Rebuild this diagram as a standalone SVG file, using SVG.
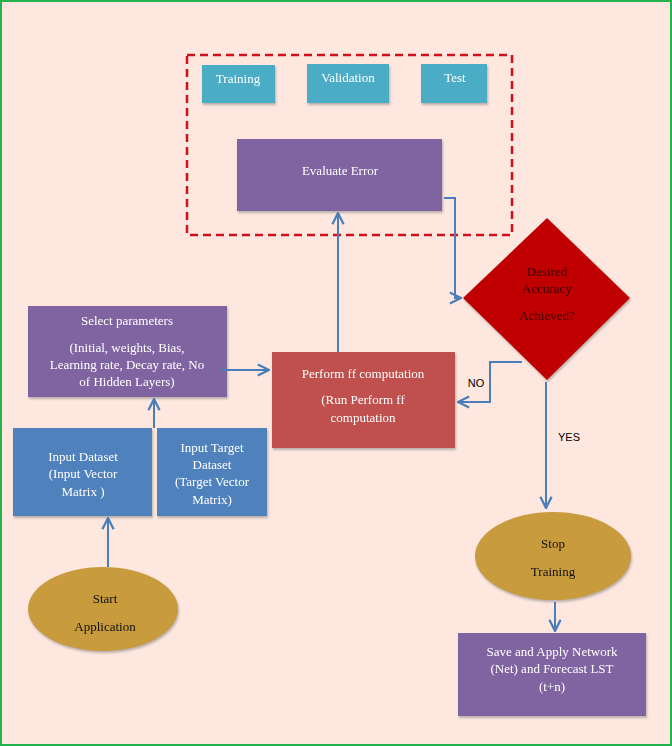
<svg xmlns="http://www.w3.org/2000/svg" width="672" height="746" viewBox="0 0 672 746">
<style>
text{font-family:"Liberation Serif",serif;font-size:13px;fill:#fff;text-anchor:middle}
.sh{filter:drop-shadow(1px 2px 1px rgba(120,120,120,0.5))}
.cn{fill:none;stroke:#4a7ebb;stroke-width:2}
.lb{font-family:"Liberation Sans",sans-serif;font-size:11px;fill:#000}
</style>
<defs><marker id="a" viewBox="0 0 10 10" refX="9" refY="5" markerWidth="7" markerHeight="7" orient="auto"><path d="M1,1 L9,5 L1,9" fill="none" stroke="#4a7ebb" stroke-width="1.6"/></marker></defs>
<rect x="1" y="1" width="670" height="744" fill="#fde7df" stroke="#22b24c" stroke-width="2"/>
<rect x="187" y="55" width="325" height="180" fill="none" stroke="#d0111b" stroke-width="2.5" stroke-dasharray="8,5"/>
<g id="training" class="sh"><rect x="202" y="65" width="73" height="38" fill="#4bacc6"/><text x="238" y="83">Training</text></g>
<g id="validation" class="sh"><rect x="307" y="64" width="82" height="39" fill="#4bacc6"/><text x="348" y="82">Validation</text></g>
<g id="test" class="sh"><rect x="421" y="64" width="66" height="39" fill="#4bacc6"/><text x="455" y="82">Test</text></g>
<g id="evaluate" class="sh"><rect x="237" y="139" width="205" height="72" fill="#8064a2"/><text x="340" y="175">Evaluate Error</text></g>
<g id="decision" class="sh"><polygon points="547,218 630,298 547,380 463,298" fill="#c00000"/><text x="547" y="276" style="fill:#3a0000">Desired</text><text x="547" y="293" style="fill:#3a0000">Accuracy</text><text x="547" y="320" style="fill:#3a0000">Achieved?</text></g>
<g id="select" class="sh"><rect x="28" y="306" width="199" height="91" fill="#8064a2"/><text x="127" y="325">Select parameters</text><text x="127" y="352">(Initial, weights, Bias,</text><text x="127" y="369">Learning rate, Decay rate, No</text><text x="127" y="386">of Hidden Layers)</text></g>
<g id="perform" class="sh"><rect x="272" y="352" width="183" height="96" fill="#c0504d"/><text x="363" y="378">Perform ff computation</text><text x="363" y="404">(Run Perform ff</text><text x="363" y="422">computation</text></g>
<g id="inputds" class="sh"><rect x="13" y="428" width="139" height="88" fill="#4f81bd"/><text x="83" y="461">Input Dataset</text><text x="83" y="478">(Input Vector</text><text x="83" y="496">Matrix )</text></g>
<g id="inputtgt" class="sh"><rect x="157" y="428" width="110" height="88" fill="#4f81bd"/><text x="212" y="452">Input Target</text><text x="212" y="469">Dataset</text><text x="212" y="486">(Target Vector</text><text x="212" y="504">Matrix)</text></g>
<g id="start" class="sh"><ellipse cx="103" cy="609" rx="75" ry="42" fill="#c89b3c"/><text x="105" y="603" style="fill:#111">Start</text><text x="105" y="631" style="fill:#111">Application</text></g>
<g id="stop" class="sh"><ellipse cx="553" cy="556" rx="78" ry="44" fill="#c89b3c"/><text x="553" y="548" style="fill:#111">Stop</text><text x="553" y="576" style="fill:#111">Training</text></g>
<g id="save" class="sh"><rect x="458" y="633" width="188" height="83" fill="#8064a2"/><text x="552" y="656">Save and Apply Network</text><text x="552" y="673">(Net) and Forecast LST</text><text x="552" y="691">(t+n)</text></g>
<g id="connectors">
<path class="cn" d="M108,567 V518" marker-end="url(#a)"/>
<path class="cn" d="M154,428 V399" marker-end="url(#a)"/>
<path class="cn" d="M222,370 H269" marker-end="url(#a)"/>
<path class="cn" d="M338,352 V213" marker-end="url(#a)"/>
<path class="cn" d="M444,198 H455 V298 H461" marker-end="url(#a)"/>
<path class="cn" d="M522,362 H490 V402 H458" marker-end="url(#a)"/>
<path class="cn" d="M546,382 V508" marker-end="url(#a)"/>
<path class="cn" d="M555,602 V631" marker-end="url(#a)"/>
<text class="lb" x="476" y="387">NO</text>
<text class="lb" x="569" y="441">YES</text>
</g>
</svg>
